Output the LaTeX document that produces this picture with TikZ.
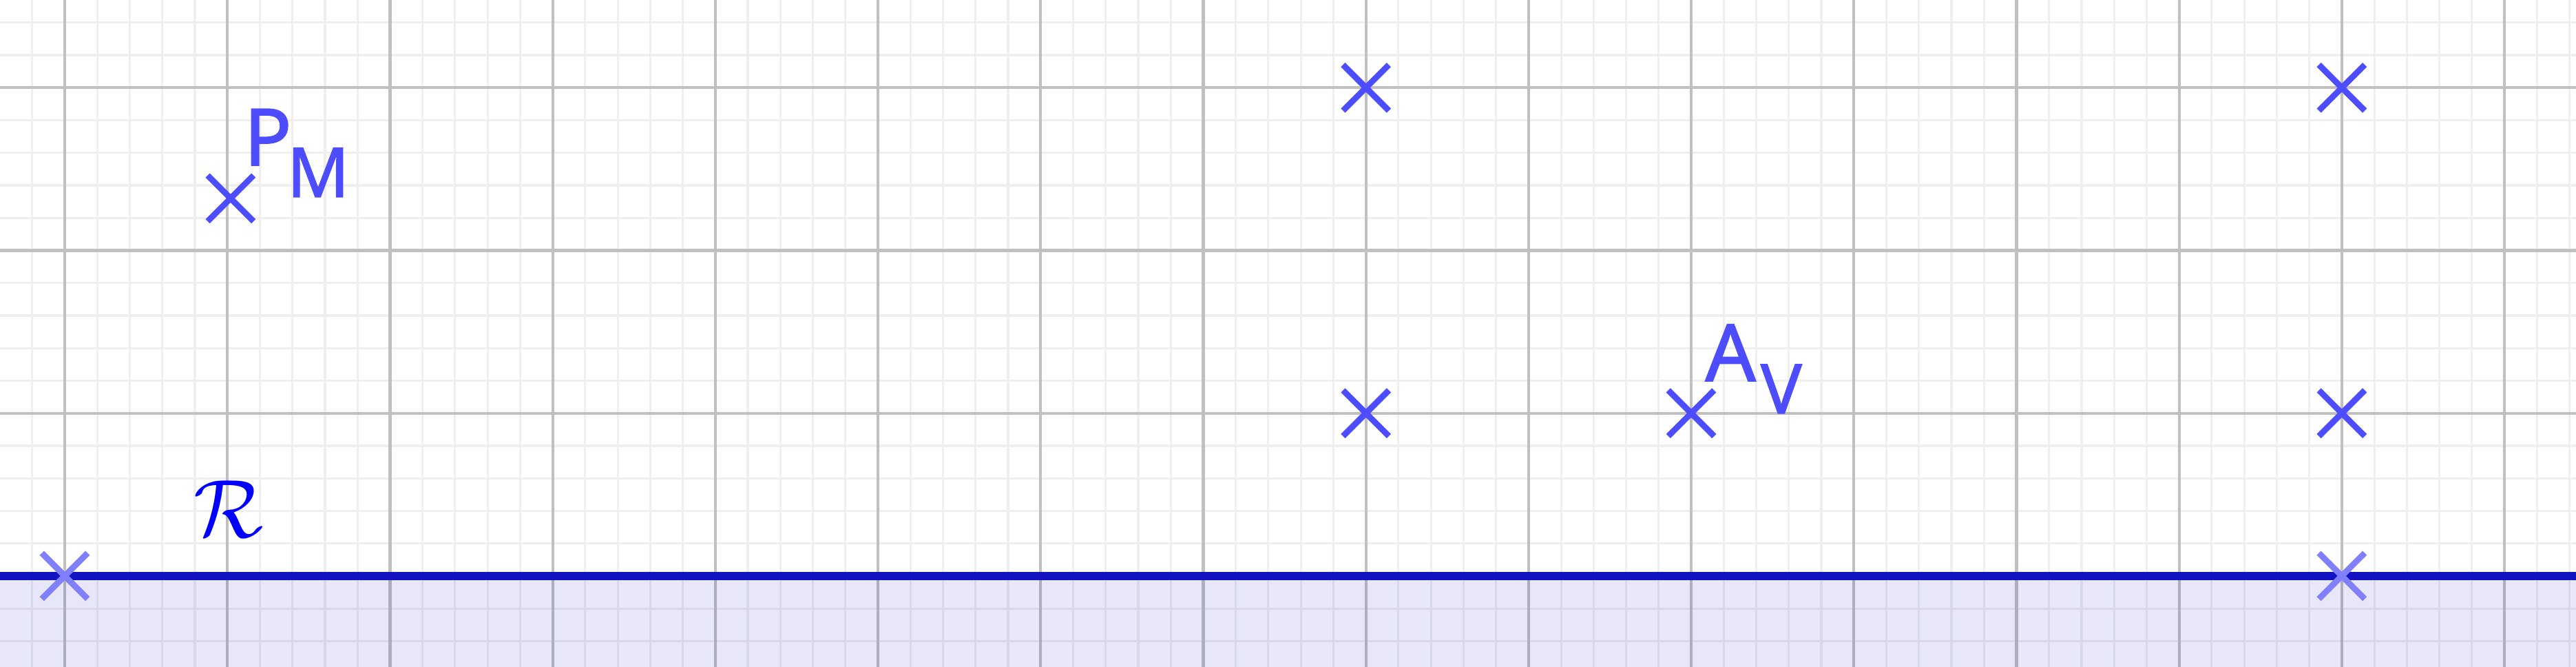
\documentclass[tikz,border=0pt]{standalone}
\usepackage{fontspec}
\setmainfont{Noto Sans}
\newfontfamily\lblfont[FakeBold=1.5]{Noto Sans}
\usetikzlibrary{shapes.misc}
\definecolor{ptblue}{RGB}{77,77,255}
\definecolor{ptlight}{RGB}{128,128,255}
\definecolor{linecol}{RGB}{19,19,196}
\definecolor{fillcol}{RGB}{21,21,204}
\definecolor{majgrid}{RGB}{192,192,192}
\definecolor{mingrid}{RGB}{239,239,239}
\tikzset{
  minorgrid/.style={draw=mingrid, line width=0.38pt},
  majorgrid/.style={draw=majgrid, line width=0.5pt},
  ptmark/.style={cross out, draw=ptblue, line width=1.05pt, minimum size=0.245cm, inner sep=0pt},
  ptmarklight/.style={ptmark, draw=ptlight},
  lbl/.style={text=ptblue, inner sep=0pt, anchor=base west, font=\lblfont\fontsize{13.8}{16}\selectfont},
  sublbl/.style={lbl, font=\lblfont\fontsize{12}{14}\selectfont},
}
\begin{document}
\begin{tikzpicture}
\useasboundingbox (-0.398,-0.559) rectangle (15.440,3.539);
\fill[white] (-0.398,-0.559) rectangle (15.440,3.539);
\draw[minorgrid] (-0.398,-0.559) grid[step=0.2] (15.440,3.539);
\draw[majorgrid] (-0.398,-0.559) grid[step=1] (15.440,3.539);
\fill[fillcol, opacity=0.1] (-0.398,-0.559) rectangle (15.440,0);
\coordinate (rl) at (-0.398,0);
\coordinate (rr) at (15.440,0);
\draw[linecol, line width=1.45pt] (rl) -- (rr);
\node[ptmarklight] (o) at (0,0) {};
\node[ptmarklight] (q) at (14,0) {};
\node[ptmark] (pm) at (1.02,2.32) {};
\node[ptmark] (t1) at (8,3) {};
\node[ptmark] (t2) at (14,3) {};
\node[ptmark] (m1) at (8,1) {};
\node[ptmark] (av) at (10,1) {};
\node[ptmark] (m2) at (14,1) {};
\node[lbl] (PMmain) at (1.095,2.523) {P};
\node[sublbl] (PMsub) at (1.36,2.329) {M};
\node[lbl] (AVmain) at (10.08,1.198) {A};
\node[sublbl] (AVsub) at (10.42,0.999) {V};
\node[text={rgb,255:red,0;green,0;blue,255}, inner sep=0pt, font=\fontsize{15.7}{18}\selectfont] (R) at (1.01,0.41) {$\mathcal{R}$};
\end{tikzpicture}
\end{document}
